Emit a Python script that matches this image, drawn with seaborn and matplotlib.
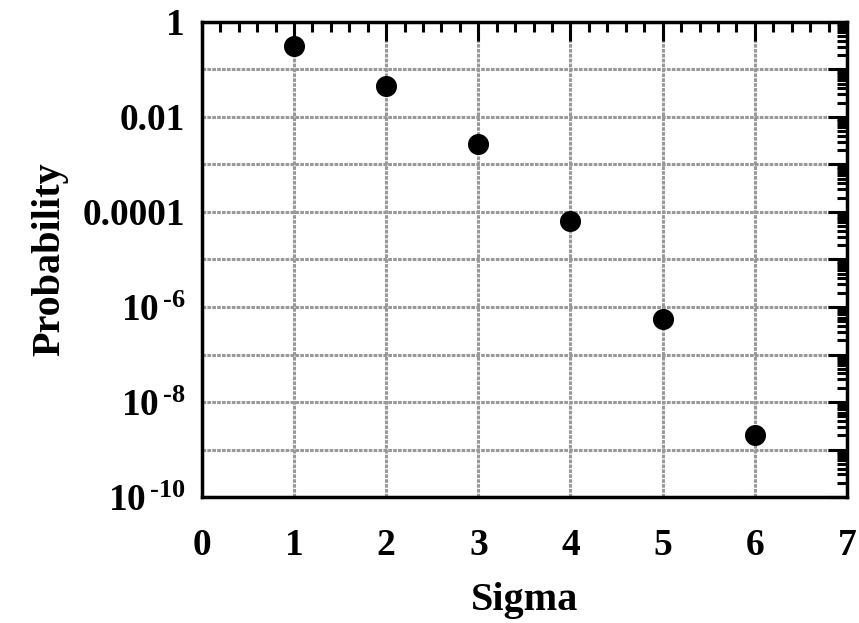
import numpy as np
import pandas as pd
import matplotlib
matplotlib.use('Agg')
import matplotlib.pyplot as plt
import matplotlib.ticker as mticker
import seaborn as sns

# two-sided tail probability beyond n sigma
sigma = [1, 2, 3, 4, 5, 6]
probability = [0.317, 0.0455, 0.0027, 6.3e-5, 5.7e-7, 2.0e-9]
ytick_labels = {0: '1', -2: '0.01', -4: '0.0001',
                -6: r'$10^{\,\text{-}6}$', -8: r'$10^{\,\text{-}8}$',
                -10: r'$10^{\,\text{-}10}$'}

sns.set_style('white')
plt.rcParams['font.family'] = ['Liberation Serif', 'DejaVu Serif']
plt.rcParams['font.weight'] = 'bold'
plt.rcParams['mathtext.fontset'] = 'custom'
plt.rcParams['mathtext.rm'] = 'Liberation Serif:bold'
plt.rcParams['mathtext.it'] = 'Liberation Serif:bold'
plt.rcParams['mathtext.bf'] = 'Liberation Serif:bold'
plt.rcParams['text.color'] = 'black'
plt.rcParams['axes.labelcolor'] = 'black'
plt.rcParams['xtick.color'] = 'black'
plt.rcParams['ytick.color'] = 'black'

df = pd.DataFrame({'Sigma': sigma, 'Probability': probability})

fig = plt.figure(figsize=(8.59, 6.23), dpi=100)
ax = fig.add_axes([0.235, 0.202, 0.751, 0.763])

sns.scatterplot(data=df, x='Sigma', y='Probability', ax=ax, color='black',
                s=230, edgecolor='black', linewidth=0, zorder=5)

ax.set_yscale('log')
ax.set_xlim(0, 7)
ax.set_ylim(1e-10, 1)

ax.xaxis.set_major_locator(mticker.MultipleLocator(1))
ax.xaxis.set_minor_locator(mticker.MultipleLocator(0.2))
decades = np.arange(-10, 1)
ax.yaxis.set_major_locator(mticker.FixedLocator(10.0 ** decades))
ax.yaxis.set_major_formatter(mticker.FuncFormatter(
    lambda v, pos: ytick_labels.get(int(round(np.log10(v))), '')))
ax.yaxis.set_minor_locator(mticker.LogLocator(base=10, subs=np.arange(2, 10), numticks=20))
ax.yaxis.set_minor_formatter(mticker.NullFormatter())

ax.grid(True, which='major', color='#999999', linestyle=(0, (1.2, 0.4)), linewidth=2.2)
ax.set_axisbelow(True)

ax.tick_params(which='both', direction='in', top=True, right=True)
ax.tick_params(which='major', length=14, width=2.2)
ax.tick_params(which='minor', length=7, width=2.2)
ax.tick_params(axis='x', which='major', labelsize=27, pad=22)
ax.tick_params(axis='y', which='major', labelsize=27, pad=12)

for sp in ax.spines.values():
    sp.set_linewidth(2.5)
    sp.set_color('black')

ax.set_xlabel('Sigma', fontsize=29, fontweight='bold', labelpad=14)
ax.set_ylabel('Probability', fontsize=29, fontweight='bold', labelpad=10)

fig.savefig('out.png', dpi=100)
